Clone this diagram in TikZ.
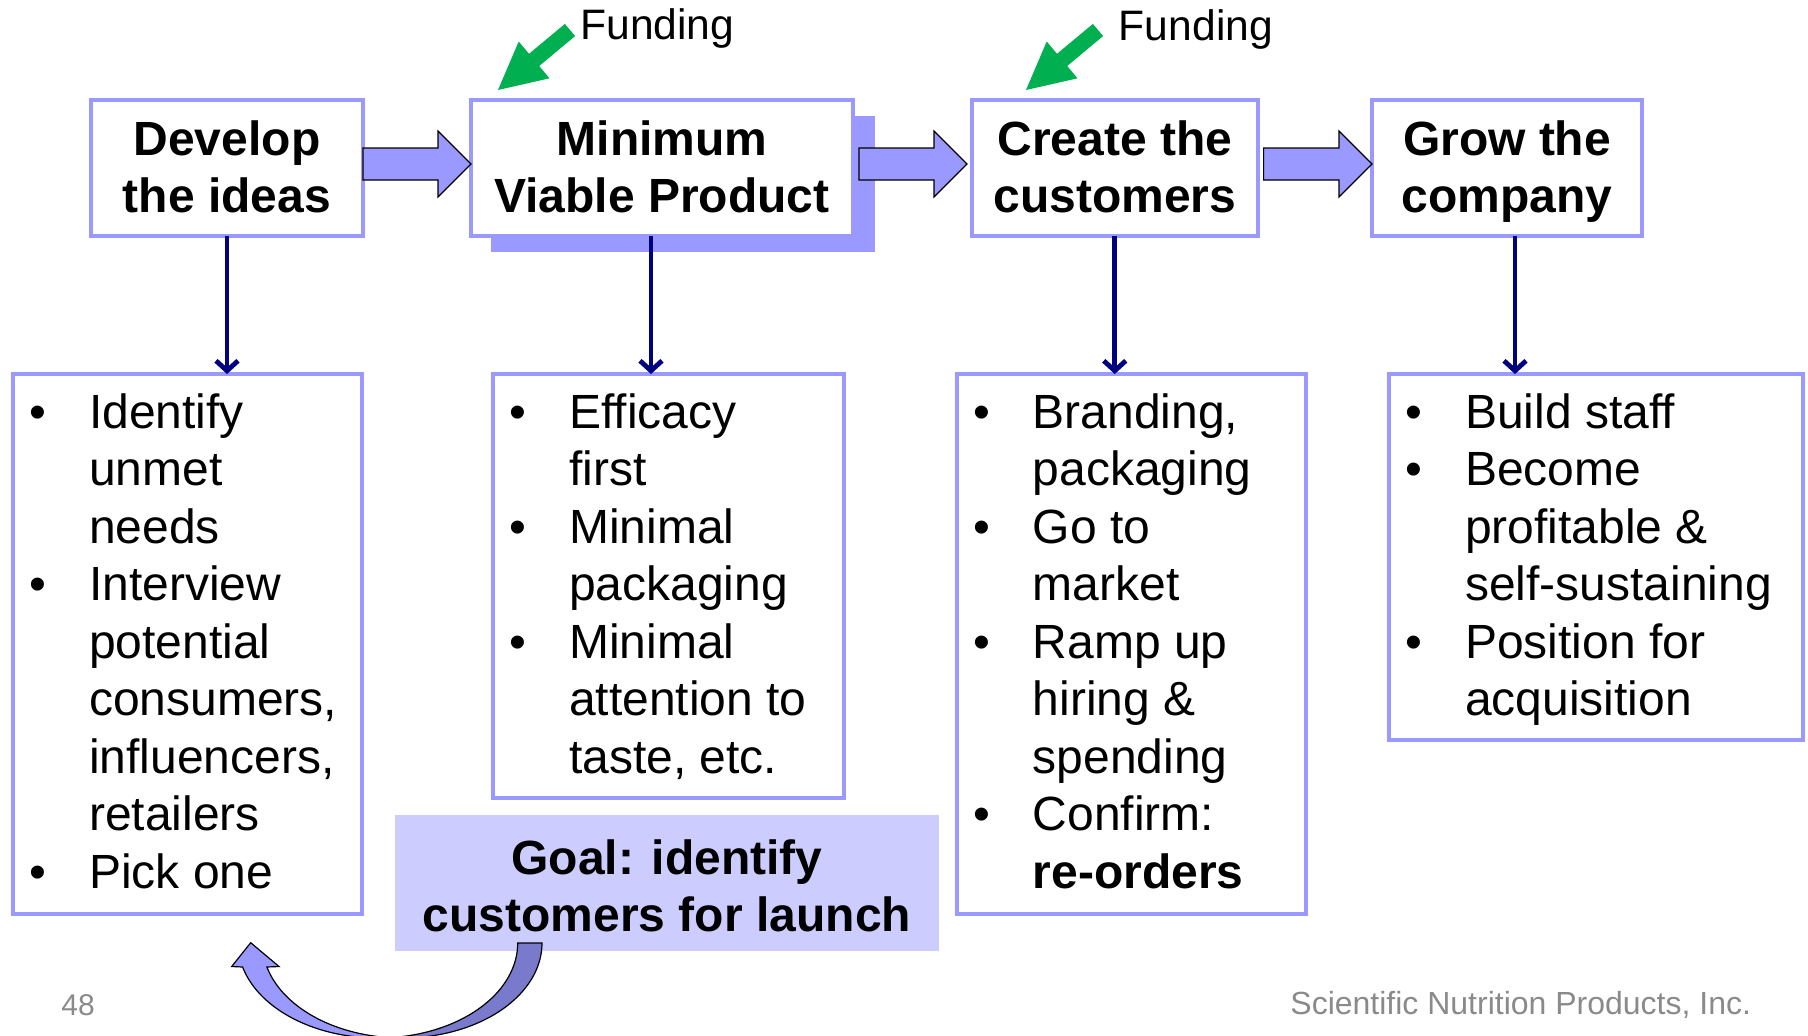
\documentclass[tikz,border=0pt]{standalone}
\usepackage{fontspec}
\setmainfont{Liberation Sans}
\usetikzlibrary{arrows.meta,calc,fit}
\definecolor{peri}{HTML}{9999FF}
\definecolor{goalfill}{HTML}{CCCCFF}
\definecolor{navyblue}{HTML}{000080}
\definecolor{fundgreen}{HTML}{00B050}
\definecolor{curvedark}{HTML}{7A7ACC}
\definecolor{footgray}{HTML}{8A8A8A}
\newcommand\bx{\textbullet}
\begin{document}
\begin{tikzpicture}[x=0.5pt,y=-0.5pt,
  box/.style={draw=peri, line width=2pt, fill=white, inner sep=0pt, outer sep=0pt},
  shadowbox/.style={fill=peri, inner sep=0pt, outer sep=0pt},
  goalbox/.style={fill=goalfill, inner sep=0pt, outer sep=0pt},
  ttl/.style={font=\bfseries\fontsize{24}{28.75}\selectfont, inner sep=0pt, anchor=base},
  lst/.style={font=\fontsize{24}{28.75}\selectfont, inner sep=0pt, anchor=base west},
  navyarr/.style={draw=navyblue, line width=2.4pt, -{Straight Barb[length=5pt,width=11pt]}},
  blockarr/.style={fill=peri, draw=black, line width=0.6pt},
  fundarr/.style={fill=fundgreen},
  fundtxt/.style={font=\fontsize{21.3}{25}\selectfont, inner sep=0pt, anchor=base west},
  foot/.style={text=footgray, inner sep=0pt, anchor=base west},
  curvelight/.style={fill=peri, draw=black, line width=0.6pt, line join=miter},
  curvedk/.style={fill=curvedark, draw=black, line width=0.6pt}]
\useasboundingbox (0,0) rectangle (1808,1035);

% ---- top row boxes
\node[box, fit={(91,100) (363,235.5)}] (dev) {};
\node[shadowbox, fit={(491,116) (875,251.7)}] (mvpsh) {};
\node[box, fit={(471,100) (853,235.5)}] (mvp) {};
\node[box, fit={(971.5,100) (1258,235.5)}] (cre) {};
\node[box, fit={(1372,100) (1642,235.5)}] (grow) {};

\node[ttl] (devt) at ($(dev.north)+(0,55)$) {\begin{tabular}[t]{@{}c@{}}Develop\\the ideas\end{tabular}};
\node[ttl] (mvpt) at ($(mvp.north)+(0,55)$) {\begin{tabular}[t]{@{}c@{}}Minimum\\Viable Product\end{tabular}};
\node[ttl] (cret) at ($(cre.north)+(0,55)$) {\begin{tabular}[t]{@{}c@{}}Create the\\customers\end{tabular}};
\node[ttl] (growt) at ($(grow.north)+(0,55)$) {\begin{tabular}[t]{@{}c@{}}Grow the\\company\end{tabular}};

% ---- block arrows between top boxes
\draw[blockarr] (363,148) -- (438,148) -- (438,131) -- (471,164) -- (438,197) -- (438,180) -- (363,180) -- cycle;
\draw[blockarr] (859,148) -- (934,148) -- (934,131) -- (967,164) -- (934,197) -- (934,180) -- (859,180) -- cycle;
\draw[blockarr] (1263.6,148) -- (1339,148) -- (1339,131) -- (1372,164) -- (1339,197) -- (1339,180) -- (1263.6,180) -- cycle;

% ---- funding arrows and labels
\fill[fundarr] (564.9,23.9) -- (529.0,53.8) -- (518.7,41.5) -- (498,90) -- (549.5,78.3) -- (539.2,66.0) -- (575.1,36.1) -- cycle;
\begin{scope}[shift={(528,0)}]
\fill[fundarr] (564.9,23.9) -- (529.0,53.8) -- (518.7,41.5) -- (498,90) -- (549.5,78.3) -- (539.2,66.0) -- (575.1,36.1) -- cycle;
\end{scope}
\node[fundtxt] (fund1) at (580,39) {Funding};
\node[fundtxt] (fund2) at (1118.5,40.5) {Funding};

% ---- bottom boxes
\node[box, fit={(13,374) (362,914)}] (b1) {};
\node[box, fit={(493,374) (844,798)}] (b2) {};
\node[box, fit={(956.5,374) (1306,914)}] (b3) {};
\node[box, fit={(1389,374) (1803,740)}] (b4) {};

\node[lst] (l1) at ($(b1.north west)+(16.3,54.3)$) {\begin{tabular}[t]{@{}p{29.75pt}@{}l@{}}
\bx & Identify\\
 & unmet\\
 & needs\\
\bx & Interview\\
 & potential\\
 & consumers,\\
 & influencers,\\
 & retailers\\
\bx & Pick one
\end{tabular}};
\node[lst] (l2) at ($(b2.north west)+(16.3,54.3)$) {\begin{tabular}[t]{@{}p{29.75pt}@{}l@{}}
\bx & Efficacy\\
 & first\\
\bx & Minimal\\
 & packaging\\
\bx & Minimal\\
 & attention to\\
 & taste, etc.
\end{tabular}};
\node[lst] (l3) at ($(b3.north west)+(16.3,54.3)$) {\begin{tabular}[t]{@{}p{29.75pt}@{}l@{}}
\bx & Branding,\\
 & packaging\\
\bx & Go to\\
 & market\\
\bx & Ramp up\\
 & hiring \&\\
 & spending\\
\bx & Confirm:\\
 & \textbf{re-orders}
\end{tabular}};
\node[lst] (l4) at ($(b4.north west)+(16.3,54.3)$) {\begin{tabular}[t]{@{}p{29.75pt}@{}l@{}}
\bx & Build staff\\
\bx & Become\\
 & profitable \&\\
 & self-sustaining\\
\bx & Position for\\
 & acquisition
\end{tabular}};

% ---- vertical connectors
\coordinate (mvpo) at ($(mvp.south)+(-11,0)$);
\coordinate (growo) at ($(grow.south)+(8,0)$);
\draw[navyarr] (dev.south) -- (dev.south |- b1.north);
\draw[navyarr] (mvpo) -- (mvpo |- b2.north);
\draw[navyarr] (cre.south) -- (cre.south |- b3.north);
\draw[navyarr] (growo) -- (growo |- b4.north);

% ---- goal box
\node[goalbox, fit={(395.4,815) (938.8,950.7)}] (goal) {};
\node[ttl] (goalt) at (667,874) {\begin{tabular}[t]{@{}c@{}}Goal: identify\\customers for launch\end{tabular}};

% ---- curved arrow
\begin{scope}
\clip (0,0) rectangle (1808,1035);
\draw[curvedk] plot[domain=0:95, samples=60] ({402.2+139.8*cos(\x)},{943+95*sin(\x)})
  -- plot[domain=85:0, samples=60] ({377.9+139.8*cos(\x)},{943+95*sin(\x)}) -- cycle;
\draw[curvelight] plot[domain=85:165.37, samples=60] ({377.9+139.8*cos(\x)},{943+95*sin(\x)})
  -- (231.7,966.5) -- (250.7,942.7) -- (279,966.5)
  -- plot[domain=165.37:95, samples=60] ({402.2+139.8*cos(\x)},{943+95*sin(\x)}) -- cycle;
\end{scope}

% ---- footer
\node[foot, font=\fontsize{15}{18}\selectfont] (pg) at (61,1015) {48};
\node[foot, font=\fontsize{16}{19}\selectfont] (co) at (1290,1014) {Scientific Nutrition Products, Inc.};
\end{tikzpicture}
\end{document}
